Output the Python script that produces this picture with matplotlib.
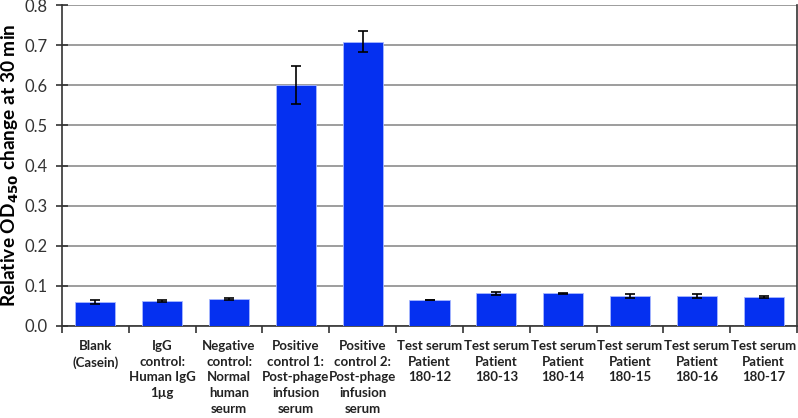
import matplotlib
matplotlib.use("Agg")
import matplotlib.pyplot as plt
import numpy as np
from matplotlib.ticker import FixedLocator

categories = [
    "Blank\n(Casein)",
    "IgG\ncontrol:\nHuman IgG\n1µg",
    "Negative\ncontrol:\nNormal\nhuman\nseurm",
    "Positive\ncontrol 1:\nPost-phage\ninfusion\nserum",
    "Positive\ncontrol 2:\nPost-phage\ninfusion\nserum",
    "Test serum\nPatient\n180-12",
    "Test serum\nPatient\n180-13",
    "Test serum\nPatient\n180-14",
    "Test serum\nPatient\n180-15",
    "Test serum\nPatient\n180-16",
    "Test serum\nPatient\n180-17",
]
values = [0.060, 0.062, 0.067, 0.600, 0.709, 0.065, 0.081, 0.081, 0.075, 0.075, 0.072]
errors = [0.004, 0.002, 0.002, 0.047, 0.027, 0.001, 0.003, 0.002, 0.004, 0.004, 0.002]
yticks = [0.0, 0.1, 0.2, 0.3, 0.4, 0.5, 0.6, 0.7, 0.8]

plt.rcParams['font.family'] = ['Lato', 'DejaVu Sans']

fig = plt.figure(figsize=(7.98, 4.18), dpi=100)
ax = fig.add_axes([62/798, 1 - 326/418, (797 - 62)/798, (326 - 5)/418])

x = np.arange(len(categories))
ax.bar(x, values, width=0.6, color="#0530f0", edgecolor="#a8b8ff", linewidth=0.6, zorder=3)
ax.errorbar(x, values, yerr=errors, fmt="none", ecolor="black", elinewidth=1.2,
            capsize=3.5, capthick=1.2, zorder=4)

ax.set_xlim(-0.5, len(categories) - 0.5)
ax.set_ylim(0, 0.8)
ax.set_yticks(yticks)
ax.set_yticklabels([f"{v:.1f}" for v in yticks], fontsize=12, color="#333333")
ax.yaxis.grid(True, color="#8c8c8c", linewidth=1.2, zorder=0)
ax.set_axisbelow(True)

ax.set_xticks(x)
ax.set_xticklabels(categories, fontsize=9.5, fontweight="bold", linespacing=1.38, color="#222222")
ax.tick_params(axis="x", which="major", length=0, pad=10)
ax.xaxis.set_minor_locator(FixedLocator(np.arange(-0.5, len(categories), 1.0)))
ax.tick_params(axis="x", which="minor", length=5, width=1.2, color="#333333", direction="out")
ax.tick_params(axis="y", length=8, width=1.2, color="#333333", direction="inout", pad=6)

for s in ["left", "bottom"]:
    ax.spines[s].set_color("#333333")
    ax.spines[s].set_linewidth(1.2)
ax.spines["top"].set_visible(False)
ax.spines["right"].set_color("#333333")
ax.spines["right"].set_linewidth(1.2)

ax.set_ylabel("Relative OD$_{\\mathbf{450}}$ change at 30 min", fontsize=13.8, fontweight="bold", labelpad=3)

fig.savefig("out.png", dpi=100)
